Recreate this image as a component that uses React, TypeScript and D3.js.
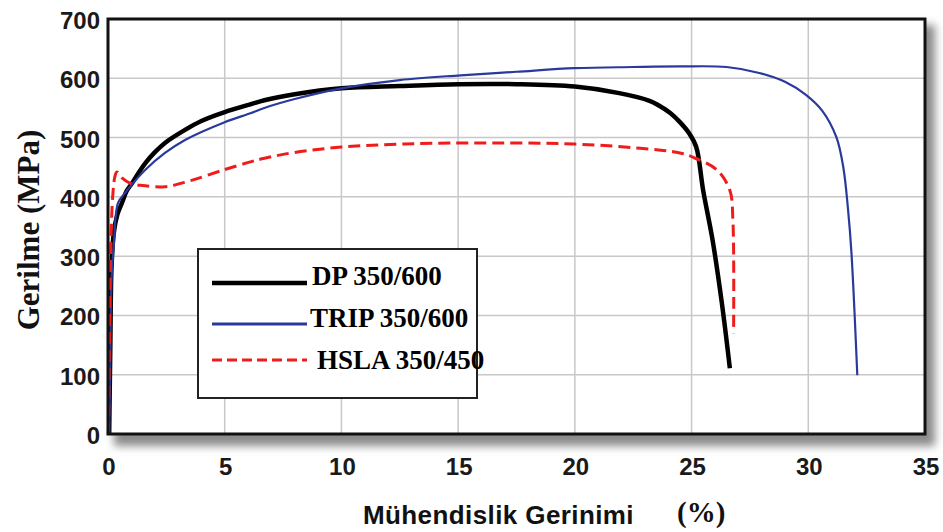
import React, { useEffect, useRef } from "react";
import * as d3 from "d3";

// strain (%) / stress (MPa)
const dpStrain = [0.05, 0.1, 0.15, 0.25, 0.4, 0.6, 0.8, 1.03, 1.3, 1.6, 2, 2.44, 3.3, 4, 5, 6.1, 6.7, 8, 10, 12.5, 15, 17.5, 20, 21.9, 23.2, 23.6, 24.1, 24.5, 24.9, 25.2, 25.5, 25.9, 26.3, 26.64];
const dpStress = [0, 150, 280, 340, 370, 390, 410, 423, 440, 457, 475, 491, 513, 528, 543, 556, 563, 573, 583, 587, 590, 590, 586, 575, 562, 554, 541, 526, 507, 484, 410, 327, 220, 111];

const tripStrain = [0.05, 0.1, 0.15, 0.25, 0.43, 0.7, 0.94, 1.58, 2.44, 3.3, 5, 6.1, 6.7, 8, 10, 12.5, 15.1, 17.5, 20, 22.5, 24.5, 26.5, 27.9, 29, 29.9, 30.6, 31.2, 31.5, 31.7, 31.85, 32.1];
const tripStress = [0, 130, 260, 320, 390, 405, 417, 445, 474, 496, 526, 541, 550, 565, 583, 597, 605, 611, 617, 619, 620, 619, 609, 594, 572, 545, 501, 450, 380, 305, 99];

const hslaStrain = [0.02, 0.05, 0.1, 0.2, 0.3, 0.38, 0.6, 0.94, 1.5, 2.44, 3.5, 5, 6.1, 6.7, 8, 10, 12.5, 15.5, 20, 22.8, 24.5, 25.05, 26.1, 26.64, 26.77, 26.8];
const hslaStress = [0, 120, 280, 400, 435, 442, 432, 423, 419, 417, 427, 446, 459, 465, 475, 484, 489, 491, 489, 482, 474, 467, 445, 411, 361, 170];

const xTicks = [0, 5, 10, 15, 20, 25, 30, 35];
const yTicks = [0, 100, 200, 300, 400, 500, 600, 700];

const seriesNames = ["DP 350/600", "TRIP 350/600", "HSLA 350/450"];
const seriesColors = ["#000000", "#2a3a9c", "#f01c1c"];

const App = () => {
  const ref = useRef<SVGSVGElement>(null);

  useEffect(() => {
    document.body.style.margin = "0";
    const svg = d3.select(ref.current);
    svg.selectAll("*").remove();

    const x = d3.scaleLinear().domain([0, 35]).range([108, 925]);
    const y = d3.scaleLinear().domain([0, 700]).range([434, 19]);

    const defs = svg.append("defs");
    defs
      .append("filter")
      .attr("id", "shadow")
      .attr("x", "-10%")
      .attr("y", "-10%")
      .attr("width", "120%")
      .attr("height", "120%")
      .append("feGaussianBlur")
      .attr("stdDeviation", 4);

    // shadow + plot background
    svg
      .append("rect")
      .attr("x", x(0) + 6)
      .attr("y", y(700) + 6)
      .attr("width", x(35) - x(0) + 4)
      .attr("height", y(0) - y(700) + 6)
      .attr("fill", "#8a8a8a")
      .attr("filter", "url(#shadow)");
    svg
      .append("rect")
      .attr("x", x(0))
      .attr("y", y(700))
      .attr("width", x(35) - x(0))
      .attr("height", y(0) - y(700))
      .attr("fill", "#ffffff");

    // grid
    svg
      .append("g")
      .selectAll("line")
      .data(xTicks.slice(1, -1))
      .join("line")
      .attr("x1", (d) => x(d))
      .attr("x2", (d) => x(d))
      .attr("y1", y(700))
      .attr("y2", y(0))
      .attr("stroke", "#c8c8c8")
      .attr("stroke-width", 1.5);
    svg
      .append("g")
      .selectAll("line")
      .data(yTicks.slice(1, -1))
      .join("line")
      .attr("x1", x(0))
      .attr("x2", x(35))
      .attr("y1", (d) => y(d))
      .attr("y2", (d) => y(d))
      .attr("stroke", "#c8c8c8")
      .attr("stroke-width", 1.5);

    // tick labels
    svg
      .append("g")
      .selectAll("text")
      .data(yTicks)
      .join("text")
      .attr("x", 100)
      .attr("y", (d) => y(d) + 10)
      .attr("text-anchor", "end")
      .attr("font-family", "Liberation Sans, Arial, sans-serif")
      .attr("font-weight", "bold")
      .attr("font-size", 24)
      .attr("fill", "#1a1a1a")
      .text((d) => d);
    svg
      .append("g")
      .selectAll("text")
      .data(xTicks)
      .join("text")
      .attr("x", (d) => x(d) + 1)
      .attr("y", 475)
      .attr("text-anchor", "middle")
      .attr("font-family", "Liberation Sans, Arial, sans-serif")
      .attr("font-weight", "bold")
      .attr("font-size", 24)
      .attr("fill", "#1a1a1a")
      .text((d) => d);

    // axis titles
    svg
      .append("text")
      .attr("x", 363)
      .attr("y", 524)
      .attr("font-family", "Liberation Sans, Arial, sans-serif")
      .attr("font-weight", "bold")
      .attr("font-size", 26)
      .attr("letter-spacing", 0.4)
      .attr("fill", "#111")
      .text("Mühendislik Gerinimi");
    svg
      .append("text")
      .attr("x", 677)
      .attr("y", 522)
      .attr("font-family", "Liberation Serif, Times New Roman, serif")
      .attr("font-weight", "bold")
      .attr("font-size", 29)
      .attr("fill", "#111")
      .text("(%)");
    svg
      .append("text")
      .attr("transform", "translate(39,230) rotate(-90)")
      .attr("text-anchor", "middle")
      .attr("font-family", "Liberation Serif, Times New Roman, serif")
      .attr("font-weight", "bold")
      .attr("font-size", 31)
      .attr("fill", "#111")
      .text("Gerilme (MPa)");

    // curves
    const line = d3
      .line<[number, number]>()
      .x((d) => x(d[0]))
      .y((d) => y(d[1]))
      .curve(d3.curveCatmullRom.alpha(0.5));

    const series: [number, number][][] = [
      dpStrain.map((s, i) => [s, dpStress[i]]),
      tripStrain.map((s, i) => [s, tripStress[i]]),
      hslaStrain.map((s, i) => [s, hslaStress[i]]),
    ];
    const widths = [4.5, 2.2, 3];
    const dashes = [null, null, "12,6"];

    series.forEach((pts, i) => {
      svg
        .append("path")
        .datum(pts)
        .attr("fill", "none")
        .attr("stroke", seriesColors[i])
        .attr("stroke-width", widths[i])
        .attr("stroke-dasharray", dashes[i])
        .attr("stroke-linejoin", "round")
        .attr("d", line);
    });

    // plot border
    svg
      .append("rect")
      .attr("x", x(0))
      .attr("y", y(700))
      .attr("width", x(35) - x(0))
      .attr("height", y(0) - y(700))
      .attr("fill", "none")
      .attr("stroke", "#111")
      .attr("stroke-width", 3);

    // legend
    const lg = svg.append("g");
    lg.append("rect")
      .attr("x", 198)
      .attr("y", 249)
      .attr("width", 279)
      .attr("height", 149)
      .attr("fill", "#fff")
      .attr("stroke", "#222")
      .attr("stroke-width", 2);
    const rows = [283, 324, 360];
    const textX = [312, 310, 317];
    const textY = [285, 327, 369];
    seriesNames.forEach((name, i) => {
      lg.append("line")
        .attr("x1", 212)
        .attr("x2", 307)
        .attr("y1", rows[i])
        .attr("y2", rows[i])
        .attr("stroke", seriesColors[i])
        .attr("stroke-width", i === 0 ? 4.5 : 3)
        .attr("stroke-dasharray", i === 2 ? "10,5" : null);
      lg.append("text")
        .attr("x", textX[i])
        .attr("y", textY[i])
        .attr("font-family", "Liberation Serif, Times New Roman, serif")
        .attr("font-weight", "bold")
        .attr("font-size", 27)
        .attr("fill", "#000")
        .text(name);
    });
  }, []);

  return <svg ref={ref} width={943} height={532} style={{ display: "block", background: "#fff" }} />;
};

export default App;
